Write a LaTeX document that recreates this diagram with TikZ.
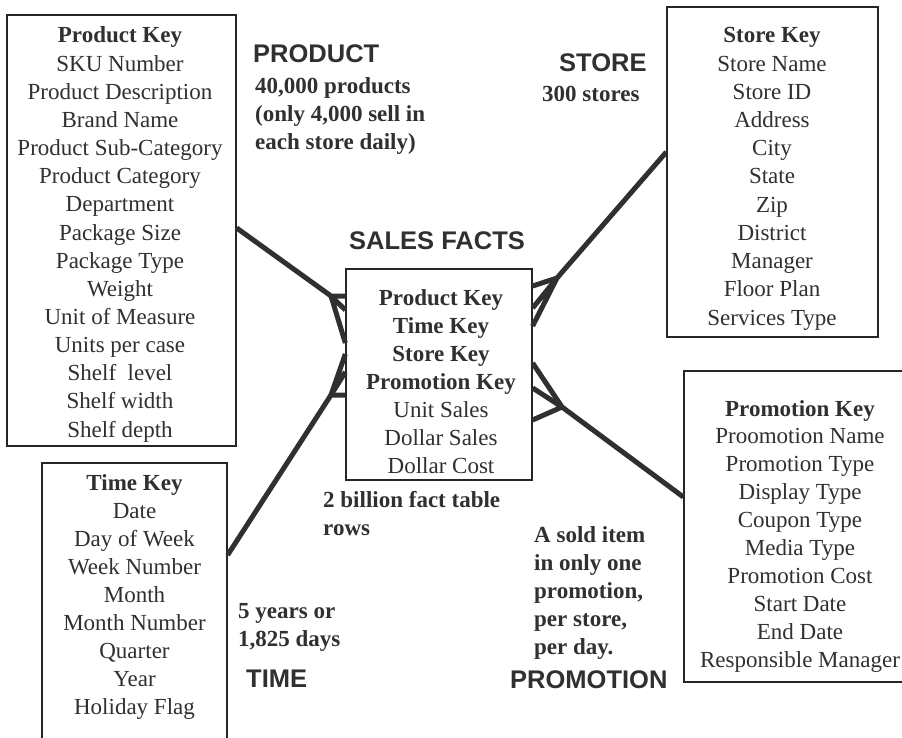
\documentclass[tikz,border=0pt]{standalone}
\usepackage{fontspec}
\setmainfont{Liberation Serif}
\newfontfamily\lsans{Liberation Sans}
\definecolor{inkc}{HTML}{303030}
\definecolor{boxc}{HTML}{262626}
\begin{document}
\begin{tikzpicture}[x=1pt,y=-1pt,
  box/.style={draw=boxc, line width=1.3pt, inner sep=0pt},
  link/.style={draw=inkc, line width=5pt, line join=round},
  fld/.style={anchor=base, inner sep=0pt, text=inkc, font=\fontsize{23}{28}\selectfont},
  keyfld/.style={anchor=base, inner sep=0pt, text=inkc, font=\fontsize{23}{28}\selectfont\bfseries},
  ttl/.style={anchor=base west, inner sep=0pt, text=inkc, font=\lsans\bfseries\fontsize{25.5}{30}\selectfont},
  note/.style={anchor=base west, inner sep=0pt, text=inkc, font=\bfseries\fontsize{23}{28}\selectfont}]
\useasboundingbox (0,0) rectangle (902,738);
\clip (0,0) rectangle (902,738);
\fill[white] (0,0) rectangle (902,738);

% entity boxes
\node[box, minimum width=229pt, minimum height=431pt] (prod) at (121.5,230.5) {};
\node[box, minimum width=211pt, minimum height=330pt] (store) at (772.5,172) {};
\node[box, minimum width=186pt, minimum height=211pt] (facts) at (439,374.5) {};
\node[box, minimum width=240pt, minimum height=311pt] (promo) at (804,526.5) {};
\node[box, minimum width=185pt, minimum height=300pt] (time) at (134.5,613) {};

% connectors with crow's feet
\coordinate (pa) at (331,296);
\draw[link] (prod.east |- 0,228) -- (pa) -- (facts.west |- 0,296);
\draw[link] (facts.west |- 0,310) -- (pa) -- (facts.west |- 0,343);

\coordinate (ta) at (331,395);
\draw[link] (time.east |- 0,555) -- (ta) -- (facts.west |- 0,395);
\draw[link] (facts.west |- 0,372) -- (ta) -- (facts.west |- 0,354);

\coordinate (sa) at (557,278);
\draw[link] (store.west |- 0,152) -- (sa) -- (facts.east |- 0,286);
\draw[link] (facts.east |- 0,308) -- (sa) -- (facts.east |- 0,326);

\coordinate (ma) at (562,407);
\draw[link] (promo.west |- 0,497) -- (ma) -- (facts.east |- 0,363);
\draw[link] (facts.east |- 0,388) -- (ma) -- (facts.east |- 0,420);

% product fields
\node[keyfld] (pk) at (120,43) {Product Key};
\foreach \t [count=\i] in {SKU Number, Product Description, Brand Name,
  Product Sub-Category, Product Category, Department, Package Size,
  Package Type, Weight, Unit of Measure, Units per case, Shelf\ \ level,
  Shelf width, Shelf depth}
  \node[fld] (pf\i) at (120,{43+28.15*\i}) {\t};

% store fields
\node[keyfld] (sk) at (772,43) {Store Key};
\foreach \t [count=\i] in {Store Name, Store ID, Address, City, State, Zip,
  District, Manager, Floor Plan, Services Type}
  \node[fld] (sf\i) at (772,{43+28.2*\i}) {\t};

% fact fields
\foreach \t [count=\i from 0] in {Product Key, Time Key, Store Key, Promotion Key}
  \node[keyfld] (fk\i) at (441,{305+28.1*\i}) {\t};
\foreach \t [count=\i from 4] in {Unit Sales, Dollar Sales, Dollar Cost}
  \node[fld] (ff\i) at (441,{305+28.1*\i}) {\t};

% promotion fields
\node[keyfld] (mk) at (800,416) {Promotion Key};
\foreach \t [count=\i] in {Proomotion Name, Promotion Type, Display Type,
  Coupon Type, Media Type, Promotion Cost, Start Date, End Date,
  Responsible Manager}
  \node[fld] (mf\i) at (800,{416+27.9*\i}) {\t};

% time fields
\node[keyfld] (tk) at (134.5,490) {Time Key};
\foreach \t [count=\i] in {Date, Day of Week, Week Number, Month,
  Month Number, Quarter, Year, Holiday Flag}
  \node[fld] (tf\i) at (134.5,{490+28.1*\i}) {\t};

% titles
\node[ttl] (tprod) at (253,63) {PRODUCT};
\node[ttl] (tfacts) at (349,249) {SALES FACTS};
\node[ttl] (tstore) at (559,72) {STORE};
\node[ttl] (ttime) at (246,687) {TIME};
\node[ttl] (tpromo) at (510,688) {PROMOTION};

% notes
\node[note] (n1) at (255,94) {40,000 products};
\node[note] (n2) at (255,122) {(only 4,000 sell in};
\node[note] (n3) at (255,150) {each store daily)};
\node[note] (n4) at (542,102) {300 stores};
\node[note] (n5) at (323,507) {2 billion fact table};
\node[note] (n6) at (323,535) {rows};
\node[note] (n7) at (238,618) {5 years or};
\node[note] (n8) at (238,646) {1,825 days};
\node[note] (n9) at (534,542) {A sold item};
\node[note] (n10) at (534,570) {in only one};
\node[note] (n11) at (534,598) {promotion,};
\node[note] (n12) at (534,626) {per store,};
\node[note] (n13) at (534,654) {per day.};
\end{tikzpicture}
\end{document}
